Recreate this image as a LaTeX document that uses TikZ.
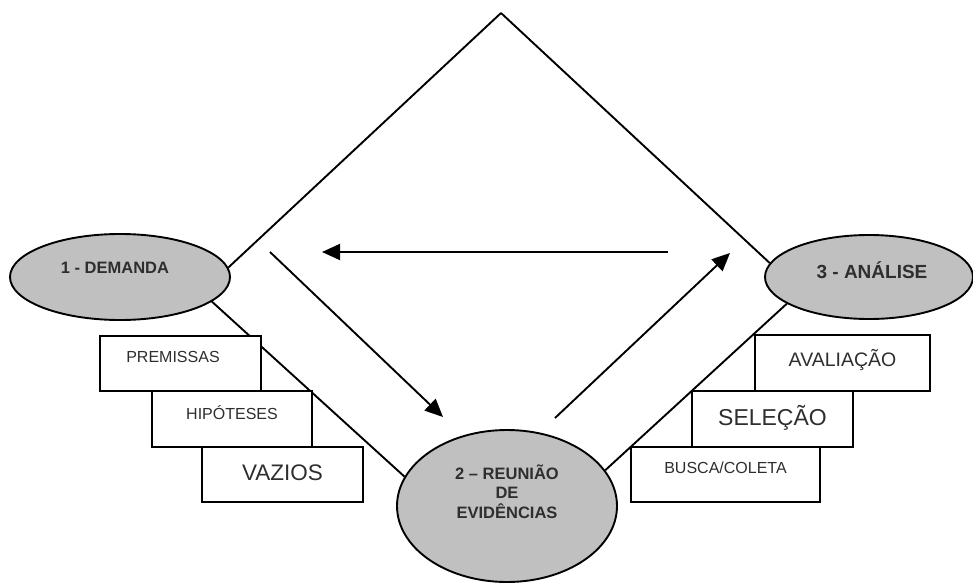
\documentclass[tikz,border=0pt]{standalone}
\usepackage{fontspec}
\setmainfont{Liberation Sans}
\usetikzlibrary{positioning, shapes, arrows.meta}
\usetikzlibrary{backgrounds}
\definecolor{phasegray}{HTML}{C0C0C0}
\definecolor{inkgray}{HTML}{2E2E2E}

\begin{document}
\begin{tikzpicture}[x=1pt, y=-1pt,
    phase/.style={draw, ellipse, fill=phasegray, line width=1.9pt, inner sep=0pt},
    phasetext/.style={text=inkgray, font=\bfseries\fontsize{16.5}{19.5}\selectfont, align=center},
    stepbox/.style={draw, fill=white, line width=1.9pt, inner sep=0pt, minimum height=55pt},
    steptext/.style={text=inkgray, font=\fontsize{16}{19}\selectfont},
    flow/.style={line width=1.9pt, -{Triangle[length=18pt, width=16pt]}},
    side/.style={line width=1.9pt}]
            \useasboundingbox (0,0) rectangle (973,583);

            \coordinate (apex) at (501,13);

            % phases
            \node[phase, minimum width=220pt, minimum height=86pt, label={[phasetext, xshift=-5pt, yshift=9pt]center:1 - DEMANDA}] (dem) at (120,277) {};
            \node[phase, minimum width=208pt, minimum height=84pt, label={[phasetext, font=\bfseries\fontsize{19}{23}\selectfont, xshift=3pt, yshift=7pt]center:3 - ANÁLISE}] (ana) at (869,277) {};
            \node[phase, minimum width=220pt, minimum height=152pt, label={[phasetext, yshift=14.5pt]center:{2 – REUNIÃO\\DE\\EVIDÊNCIAS}}] (ev) at (507,506) {};

            % steps of each phase
            \node[stepbox, minimum width=161pt, label={[steptext, xshift=-7.5pt, yshift=6.5pt]center:PREMISSAS}] (prem) at (180.5,363.5) {};
            \node[stepbox, minimum width=160pt, minimum height=56pt, label={[steptext, yshift=6pt]center:HIPÓTESES}] (hip) at (232,419) {};
            \node[stepbox, minimum width=161pt, label={[steptext, font=\fontsize{22.5}{26}\selectfont, yshift=1.5pt]center:VAZIOS}] (vaz) at (282.5,474.5) {};

            \node[stepbox, minimum width=175pt, minimum height=56pt, label={[steptext, font=\fontsize{19.5}{23}\selectfont, yshift=3pt]center:AVALIAÇÃO}] (ava) at (842.5,363) {};
            \node[stepbox, minimum width=161pt, minimum height=56pt, label={[steptext, font=\fontsize{23}{27}\selectfont, yshift=1pt]center:SELEÇÃO}] (sel) at (772.5,419) {};
            \node[stepbox, minimum width=189pt, label={[steptext, yshift=6.5pt]center:BUSCA/COLETA}] (bus) at (725.5,474.5) {};

            % Draw sides
            \begin{scope}[on background layer]
                \draw[side] (apex) -- (dem.5);
                \draw[side] (apex) -- (ana.172);
                \draw[side] (dem.-15) -- (ev.164);
                \draw[side] (ev.20) -- (ana.-162);
            \end{scope}

            % cycle arrows
            \coordinate (back1) at (668,252);
            \coordinate (back2) at (322,252);
            \coordinate (down1) at (270,252);
            \coordinate (down2) at (443,417);
            \coordinate (up1) at (555,418);
            \coordinate (up2) at (730,253);

            \draw[flow] (back1) -- (back2);
            \draw[flow] (down1) -- (down2);
            \draw[flow] (up1) -- (up2);
\end{tikzpicture}
\end{document}
